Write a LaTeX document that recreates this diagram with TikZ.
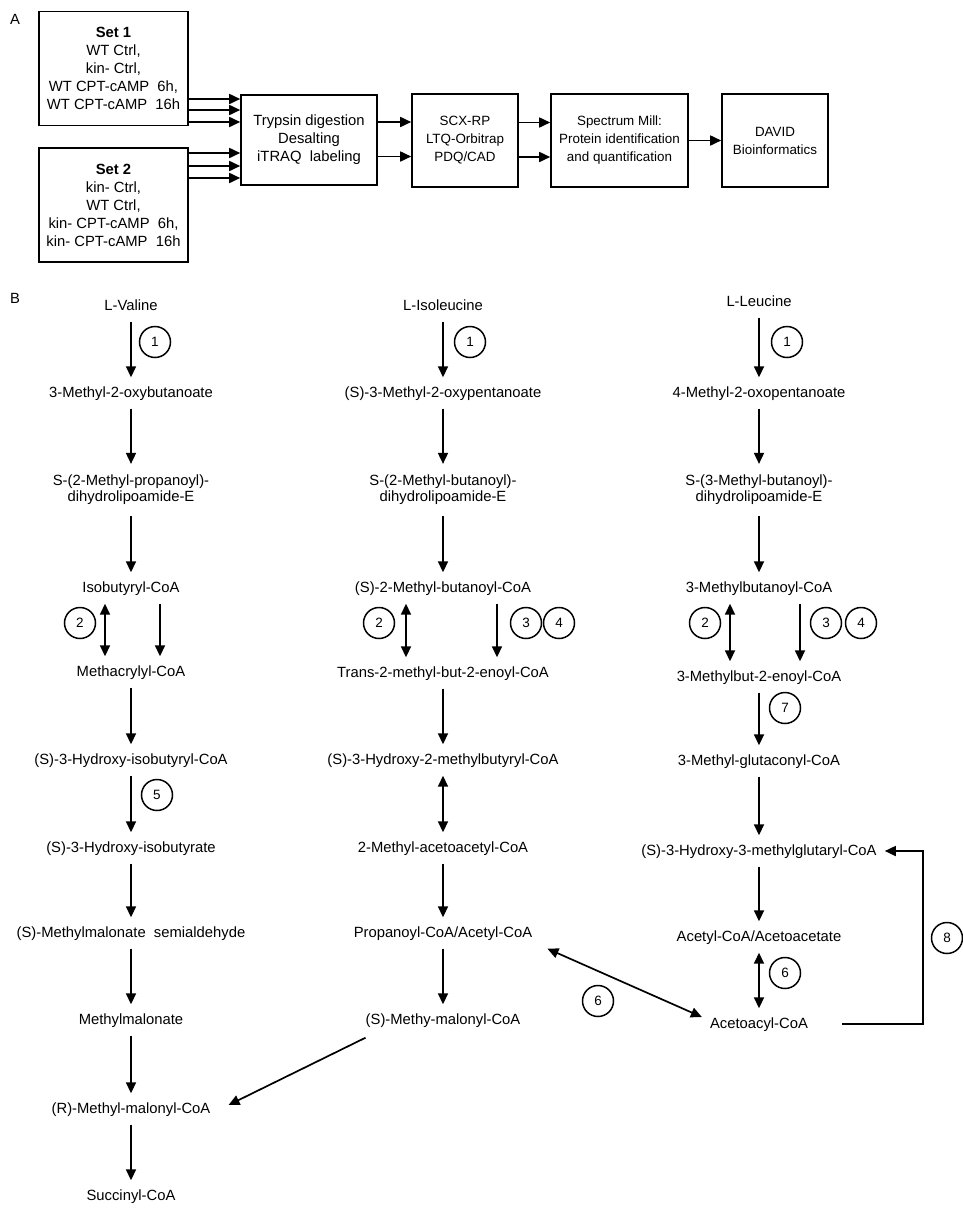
\documentclass[tikz,border=0pt]{standalone}
\usepackage{fontspec}
\setmainfont{Liberation Sans}
\usetikzlibrary{arrows.meta}
\tikzset{
  cpd/.style={inner xsep=4pt, inner ysep=8.5pt, text height=11pt, text depth=3pt, font=\fontsize{14.8}{16}\selectfont},
  cpdtwo/.style={inner xsep=4pt, inner ysep=11pt, align=center, font=\fontsize{14.8}{16}\selectfont},
  box/.style={draw, line width=1.6pt, align=center, inner sep=0pt, font=\fontsize{14.8}{18}\selectfont},
  smallbox/.style={box, font=\fontsize{13.4}{18}\selectfont},
  panel/.style={inner sep=0pt, font=\fontsize{14.8}{16}\selectfont},
  enz/.style={circle, draw, line width=1.5pt, minimum size=31pt, inner sep=0pt, font=\fontsize{13.5}{14}\selectfont},
  rxn/.style={line width=1.7pt, -{Triangle[length=11pt,width=10pt]}},
  rev/.style={line width=1.7pt, {Triangle[length=11pt,width=10pt]}-{Triangle[length=11pt,width=10pt]}},
}
\begin{document}
\begin{tikzpicture}[x=1pt,y=-1pt]
\useasboundingbox (0,0) rectangle (963,1210);

% Panel A: workflow boxes
\node[panel] (labA) at (15,19) {A};
\node[box, minimum width=149pt, minimum height=114pt] (set1) at (113.5,68.5)
  {\textbf{Set 1}\\WT Ctrl,\\kin- Ctrl,\\WT CPT-cAMP\ \ 6h,\\WT CPT-cAMP\ \ 16h};
\node[box, minimum width=149pt, minimum height=114pt] (set2) at (113.5,205)
  {\textbf{Set 2}\\kin- Ctrl,\\WT Ctrl,\\kin- CPT-cAMP\ \ 6h,\\kin- CPT-cAMP\ \ 16h};
\node[box, minimum width=136pt, minimum height=90pt] (tryp) at (309,140)
  {Trypsin digestion\\Desalting\\iTRAQ\ \ labeling};
\node[smallbox, minimum width=106pt, minimum height=93pt] (scx) at (465,140.5)
  {SCX-RP\\LTQ-Orbitrap\\PDQ/CAD};
\node[smallbox, minimum width=137pt, minimum height=93pt] (spec) at (619.5,140.5)
  {Spectrum Mill:\\Protein identification\\and quantification};
\node[smallbox, minimum width=106pt, minimum height=93pt] (david) at (775,140.5)
  {DAVID\\Bioinformatics};

% Draw arrows
\foreach \s in {-30.5,-41.5,-53.5}
  \draw[rxn] ([yshift=\s pt]set1.east) -- ([yshift=\s pt]set1.east -| tryp.west);
\foreach \s in {52,39,27}
  \draw[rxn] ([yshift=\s pt]set2.east) -- ([yshift=\s pt]set2.east -| tryp.west);
\foreach \s in {18,-16.5} {
  \draw[rxn] ([yshift=\s pt]tryp.east) -- ([yshift=\s pt]tryp.east -| scx.west);
  \draw[rxn] ([yshift=\s pt]scx.east) -- ([yshift=\s pt]scx.east -| spec.west);
}
\draw[rxn] (spec.east) -- (david.west);

% Panel B: define node positions
\node[panel] (labB) at (15,298) {B};

% valine
\node[cpd] (val) at (131,306) {L-Valine};
\node[cpd] (mob) at (131,393) {3-Methyl-2-oxybutanoate};
\node[cpdtwo] (smp) at (131,490) {S-(2-Methyl-propanoyl)-\\dihydrolipoamide-E};
\node[cpd] (ibc) at (131,588) {Isobutyryl-CoA};
\node[cpd] (mac) at (131,672) {Methacrylyl-CoA};
\node[cpd] (hic) at (131,760) {(S)-3-Hydroxy-isobutyryl-CoA};
\node[cpd] (hib) at (131,848) {(S)-3-Hydroxy-isobutyrate};
\node[cpd] (msa) at (131,933) {(S)-Methylmalonate\ \ semialdehyde};
\node[cpd] (mma) at (131,1020) {Methylmalonate};
\node[cpd] (rmm) at (131,1109) {(R)-Methyl-malonyl-CoA};
\node[cpd] (suc) at (131,1196) {Succinyl-CoA};

% isoleucine
\node[cpd] (ile) at (443,306) {L-Isoleucine};
\node[cpd] (mop) at (443,393) {(S)-3-Methyl-2-oxypentanoate};
\node[cpdtwo] (smb) at (443,490) {S-(2-Methyl-butanoyl)-\\dihydrolipoamide-E};
\node[cpd] (mbc) at (443,588) {(S)-2-Methyl-butanoyl-CoA};
\node[cpd] (tmb) at (443,673) {Trans-2-methyl-but-2-enoyl-CoA};
\node[cpd] (hmb) at (443,760) {(S)-3-Hydroxy-2-methylbutyryl-CoA};
\node[cpd] (maa) at (443,848) {2-Methyl-acetoacetyl-CoA};
\node[cpd] (pac) at (443,933) {Propanoyl-CoA/Acetyl-CoA};
\node[cpd] (smm) at (443,1020) {(S)-Methy-malonyl-CoA};

% leucine
\node[cpd] (leu) at (759,302) {L-Leucine};
\node[cpd] (mox) at (759,393) {4-Methyl-2-oxopentanoate};
\node[cpdtwo] (smt) at (759,490) {S-(3-Methyl-butanoyl)-\\dihydrolipoamide-E};
\node[cpd] (mbt) at (759,588) {3-Methylbutanoyl-CoA};
\node[cpd] (mbe) at (759,677) {3-Methylbut-2-enoyl-CoA};
\node[cpd] (mgc) at (759,761) {3-Methyl-glutaconyl-CoA};
\node[cpd] (hmg) at (759,851) {(S)-3-Hydroxy-3-methylglutaryl-CoA};
\node[cpd] (aca) at (759,937) {Acetyl-CoA/Acetoacetate};
\node[cpd] (aac) at (759,1024) {Acetoacyl-CoA};

% Draw arrows
\draw[rxn] (val) -- (mob);
\draw[rxn] (mob) -- (smp);
\draw[rxn] (smp) -- (ibc);
\draw[rev] ([xshift=-26pt]ibc.south) -- ([xshift=-26pt]mac.north);
\draw[rxn] ([xshift=29pt]ibc.south) -- ([xshift=29pt]mac.north);
\draw[rxn] (mac) -- (hic);
\draw[rxn] (hic) -- (hib);
\draw[rxn] (hib) -- (msa);
\draw[rxn] (msa) -- (mma);
\draw[rxn] (mma) -- (rmm);
\draw[rxn] (rmm) -- (suc);

\draw[rxn] (ile) -- (mop);
\draw[rxn] (mop) -- (smb);
\draw[rxn] (smb) -- (mbc);
\draw[rev] ([xshift=-37pt]mbc.south) -- ([xshift=-37pt]tmb.north);
\draw[rxn] ([xshift=54pt]mbc.south) -- ([xshift=54pt]tmb.north);
\draw[rxn] (tmb) -- (hmb);
\draw[rev] (hmb) -- (maa);
\draw[rxn] (maa) -- (pac);
\draw[rxn] (pac) -- (smm);

\draw[rxn] (leu) -- (mox);
\draw[rxn] (mox) -- (smt);
\draw[rxn] (smt) -- (mbt);
\draw[rev] ([xshift=-29pt]mbt.south) -- ([xshift=-29pt]mbe.north);
\draw[rxn] ([xshift=41pt]mbt.south) -- ([xshift=41pt]mbe.north);
\draw[rxn] (mbe) -- (mgc);
\draw[rxn] (mgc) -- (hmg);
\draw[rxn] (hmg) -- (aca);
\draw[rev] (aca) -- (aac);

% cross links
\draw[rxn] ([xshift=4pt,yshift=-2pt]smm.south west) -- ([xshift=14pt,yshift=4pt]rmm.east);
\draw[rev] ([xshift=11pt]pac.south east) -- ([xshift=-4pt,yshift=7pt]aac.west);
\coordinate (c8) at (923,851);
\draw[rxn] ([xshift=30pt]aac.east) -| (c8) -- ([xshift=4pt]hmg.east);

% Enzyme numbers
\node[enz] (e1a) at (155,342) {1};
\node[enz] (e1b) at (470,342) {1};
\node[enz] (e1c) at (787,342) {1};
\node[enz] (e2a) at (80,623) {2};
\node[enz] (e2b) at (379,623) {2};
\node[enz] (e2c) at (705,623) {2};
\node[enz] (e3b) at (526,623) {3};
\node[enz] (e4b) at (559,623) {4};
\node[enz] (e3c) at (826,623) {3};
\node[enz] (e4c) at (861,623) {4};
\node[enz] (e5) at (157,795) {5};
\node[enz] (e6a) at (598,1001) {6};
\node[enz] (e6b) at (785,973) {6};
\node[enz] (e7) at (785,708) {7};
\node[enz] (e8) at (947,938) {8};
\end{tikzpicture}
\end{document}
